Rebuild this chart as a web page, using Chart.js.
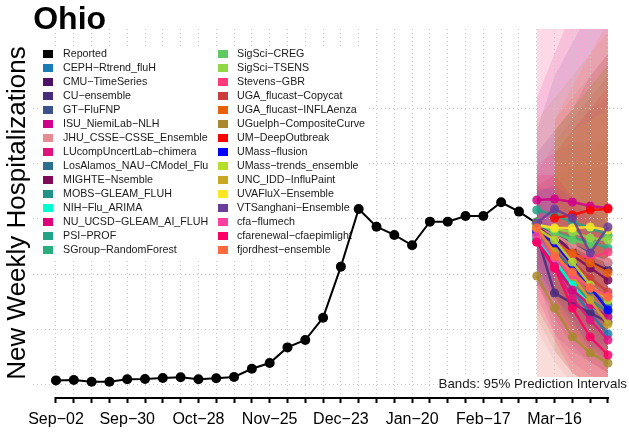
<!DOCTYPE html>
<html>
<head>
<meta charset="utf-8">
<script src="https://cdn.jsdelivr.net/npm/chart.js@4.4.1/dist/chart.umd.min.js"></script>
<style>
  html, body { margin: 0; padding: 0; background: #fff; }
</style>
</head>
<body>
<canvas id="grafico" width="629" height="432"></canvas>
<script>
// weeks on the x axis (index 0 = Sep-02)
const weeks = ['Sep-02','Sep-09','Sep-16','Sep-23','Sep-30','Oct-07','Oct-14','Oct-21','Oct-28',
  'Nov-04','Nov-11','Nov-18','Nov-25','Dec-02','Dec-09','Dec-16','Dec-23','Dec-30','Jan-06',
  'Jan-13','Jan-20','Jan-27','Feb-03','Feb-10','Feb-17','Feb-24','Mar-02','Mar-09','Mar-16',
  'Mar-23','Mar-30','Apr-06'];

const reported = [33,36,21,21,43,45,55,61,43,52,64,139,191,333,400,603,1067,1591,1430,1355,
  1261,1476,1476,1527,1527,1652,1567,1460];

const yGrid = [0,500,1000,1500,2000,2500];
const forecastStart = 27; // Mar-09

const modelNames = ['CEPH-Rtrend_fluH','CMU-TimeSeries','CU-ensemble','GT-FluFNP','ISU_NiemiLab-NLH',
  'JHU_CSSE-CSSE_Ensemble','LUcompUncertLab-chimera','LosAlamos_NAU-CModel_Flu','MIGHTE-Nsemble',
  'MOBS-GLEAM_FLUH','NIH-Flu_ARIMA','NU_UCSD-GLEAM_AI_FLUH','PSI-PROF','SGroup-RandomForest',
  'SigSci-CREG','SigSci-TSENS','Stevens-GBR','UGA_flucast-Copycat','UGA_flucast-INFLAenza',
  'UGuelph-CompositeCurve','UM-DeepOutbreak','UMass-flusion','UMass-trends_ensemble',
  'UNC_IDD-InfluPaint','UVAFluX-Ensemble','VTSanghani-Ensemble','cfa-flumech',
  'cfarenewal-cfaepimlight','fjordhest-ensemble'];

const modelColors = ['#1b7bb7','#4b1266','#472d7b','#3b528b','#d0008a','#e88a92','#e0137f','#2c6e8e',
  '#7d0b5a','#21918c','#00ffd0','#e0007a','#20a386','#29af7f','#5ec962','#8fd744','#ff3a7a',
  '#cc3c3c','#e8600a','#a8892f','#ff0000','#0000ff','#b5de2b','#c8a823','#fde725','#6a3d9a',
  '#ff40a0','#ff0066','#ff6a3d'];

// median forecasts, horizons 0..4 (Mar-09 .. Apr-06)
const fcMedian = [
  [1309,1109,855,645,455],
  [1473,1345,1200,1109,1036],
  [1355,827,736,645,564],
  [1445,1382,1264,1191,1100],
  [1673,1682,1655,1618,1600],
  [1418,1355,1264,1173,1109],
  [1327,1055,782,582,400],
  [1400,1218,1036,855,718],
  [1436,1309,1173,1055,945],
  [1382,1109,900,764,655],
  [1327,1127,900,718,600],
  [1291,1073,855,718,609],
  [1582,1536,1473,1418,1355],
  [1455,1382,1327,1291,1236],
  [1473,1373,1309,1264,1345],
  [1445,1409,1382,1327,1309],
  [1400,1309,1173,1145,1200],
  [1418,1264,1109,964,836],
  [1418,1273,1191,1100,1009],
  [982,691,427,282,191],
  [null,1509,1536,1582,1591],
  [1382,1282,1082,882,673],
  [1418,1309,1109,900,764],
  [1418,1200,982,764,545],
  [1445,1418,1418,1427,1400],
  [1464,1591,1509,1191,1427],
  [1345,1145,991,873,800],
  [1291,1055,691,427,264],
  [1418,1164,1018,873,791]
];

// 95% interval bounds, same layout
const fcLower = [
  [900,600,350,150,50],
  [1100,850,600,400,250],
  [1000,450,300,200,100],
  [null,950,750,600,450],
  [1200,900,700,500,300],
  [500,200,0,0,0],
  [800,450,200,80,0],
  [1000,750,500,300,150],
  [null,700,450,300,200],
  [null,750,500,350,250],
  [950,650,400,250,150],
  [900,600,350,200,100],
  [null,1050,900,750,600],
  [null,900,700,550,400],
  [null,800,600,450,350],
  [null,900,750,600,450],
  [900,650,450,300,250],
  [null,300,100,0,0],
  [null,800,650,500,400],
  [600,300,100,0,0],
  [null,1000,900,800,700],
  [1050,800,550,350,200],
  [null,700,450,250,100],
  [0,0,0,0,0],
  [null,950,850,750,650],
  [900,800,600,300,400],
  [0,0,0,0,0],
  [700,400,100,0,0],
  [null,650,450,300,200]
];

const fcUpper = [
  [1750,1700,1600,1500,1400],
  [2100,2300,2500,2800,3000],
  [1700,1300,1300,1250,1200],
  [null,1850,1900,1950,2000],
  [2600,3000,3400,3700,4000],
  [3400,3700,4000,4300,4600],
  [2000,2100,2200,2200,2200],
  [1800,1750,1650,1550,1450],
  [null,2100,2300,2500,2600],
  [null,1500,1350,1250,1150],
  [1700,1650,1550,1450,1350],
  [1800,1900,2000,2100,2200],
  [null,2300,2500,2700,2900],
  [null,2200,2400,2600,2800],
  [null,2300,2500,2700,2900],
  [null,1950,2050,2150,2250],
  [1900,2200,2400,2600,2800],
  [null,2300,2500,2700,2900],
  [null,2400,2600,2800,3000],
  [1800,1900,2000,2100,2200],
  [null,2100,2300,2500,2700],
  [1750,1800,1700,1600,1450],
  [null,2200,2300,2400,2500],
  [2400,2600,2800,3000,3200],
  [null,2300,2500,2700,2900],
  [2300,2800,3100,3400,3700],
  [3600,3900,4100,4200,4300],
  [1900,1900,1700,1500,1300],
  [null,2400,2700,3000,3300]
];

function rgba(hex, a) {
  var r = parseInt(hex.substr(1,2),16), g = parseInt(hex.substr(3,2),16), b = parseInt(hex.substr(5,2),16);
  return 'rgba(' + r + ',' + g + ',' + b + ',' + a + ')';
}
function minus(s) { return s.replace(/-/g, '\u2212'); }
function toPoints(arr) {
  var out = [];
  arr.forEach(function(v, h) { if (v !== null) out.push({x: forecastStart + h, y: v}); });
  return out;
}

var datasets = [];
// prediction bands (lower then upper, filled between); later models end up on top
modelNames.forEach(function(name, m) {
  datasets.push({label: name + ' lo', data: toPoints(fcLower[m]), borderColor: 'transparent', borderWidth: 0,
    pointRadius: 0, fill: false, order: 200 - m});
  datasets.push({label: name + ' hi', data: toPoints(fcUpper[m]), borderColor: 'transparent', borderWidth: 0,
    pointRadius: 0, fill: '-1', backgroundColor: rgba(modelColors[m], 0.13), order: 200 - m});
});
datasets.push({label: 'Reported', data: reported.map(function(v, i) { return {x: i, y: v}; }),
  borderColor: '#000', backgroundColor: '#000', borderWidth: 2, pointRadius: 5, pointBorderWidth: 0, order: 100});
modelNames.forEach(function(name, m) {
  datasets.push({label: name, data: toPoints(fcMedian[m]), borderColor: rgba(modelColors[m], 0.85),
    backgroundColor: rgba(modelColors[m], 0.85), borderWidth: 2.5, pointRadius: 4.5, pointBorderWidth: 0,
    order: 50 - m});
});

const extras = {
  id: 'extras',
  beforeDatasetsDraw(chart) {
    // legend, drawn over the grid but under the lines
    const ctx = chart.ctx;
    ctx.save();
    ctx.fillStyle = '#fff';
    ctx.fillRect(38, 46, 330, 212);
    const names = ['Reported'].concat(modelNames);
    const cols = ['#000'].concat(modelColors);
    ctx.font = '10.7px "Liberation Sans", Arial, sans-serif';
    ctx.textBaseline = 'middle';
    names.forEach(function(n, i) {
      const c = i < 15 ? 0 : 1;
      const r = i % 15;
      const sq = c === 0 ? 43 : 218;
      const tx = c === 0 ? 63 : 237;
      const y = 54 + r * 14;
      ctx.fillStyle = cols[i];
      ctx.fillRect(sq, y - 4, 10, 8);
      ctx.fillStyle = '#1a1a1a';
      ctx.fillText(minus(n), tx, y);
    });
    ctx.restore();
  },
  afterDatasetsDraw(chart) {
    const ctx = chart.ctx;
    ctx.save();
    ctx.font = '13.3px "Liberation Sans", Arial, sans-serif';
    const note = 'Bands: 95% Prediction Intervals';
    const w = ctx.measureText(note).width;
    ctx.fillStyle = '#fff';
    ctx.fillRect(626 - w, 377, w + 3, 14);
    ctx.fillStyle = '#1a1a1a';
    ctx.textAlign = 'right';
    ctx.textBaseline = 'alphabetic';
    ctx.fillText(note, 627, 388);
    ctx.restore();
  },
  afterDraw(chart) {
    const ctx = chart.ctx, xs = chart.scales.x;
    const y = chart.chartArea.bottom + 1;
    ctx.save();
    ctx.strokeStyle = '#000';
    ctx.lineWidth = 2;
    ctx.beginPath();
    ctx.moveTo(xs.getPixelForValue(0) - 1, y);
    ctx.lineTo(xs.getPixelForValue(weeks.length - 1) + 1, y);
    ctx.stroke();
    ctx.restore();
  }
};

const ctx = document.getElementById('grafico').getContext('2d');
window.grafica = new Chart(ctx, {
  type: 'line',
  data: { datasets: datasets },
  options: {
    responsive: false,
    animation: false,
    layout: { padding: { left: 0, right: 0, top: 0, bottom: -4.2 } },
    plugins: {
      legend: { display: false },
      tooltip: { enabled: false },
      filler: { drawTime: 'beforeDraw' }, // bands under the grid, as in the original
      title: {
        display: true, text: 'Ohio', align: 'start', fullSize: false, color: '#000',
        font: { family: 'Liberation Sans', size: 32, weight: 'bold' },
        padding: { top: 1, bottom: -10.4 }
      }
    },
    scales: {
      x: {
        type: 'linear', min: -1.28, max: 31.9,
        afterBuildTicks: function(s) { s.ticks = weeks.map(function(w, i) { return {value: i}; }); },
        ticks: {
          autoSkip: false, maxRotation: 0, padding: 7, color: '#000',
          font: { family: 'Liberation Sans', size: 16 },
          callback: function(v) { return v % 4 === 0 ? minus(weeks[v]) : ''; }
        },
        grid: { color: '#c8c8c8', lineWidth: 1, tickColor: '#000', tickWidth: 2, tickLength: 6, tickBorderDash: [] },
        border: { display: false, dash: [1, 3] }
      },
      y: {
        min: -118, max: 3227,
        afterBuildTicks: function(s) { s.ticks = yGrid.map(function(v) { return {value: v}; }); },
        ticks: { display: false },
        grid: { color: '#c8c8c8', lineWidth: 1, drawTicks: false },
        border: { display: false, dash: [1, 3] },
        title: {
          display: true, text: 'New Weekly Hospitalizations', color: '#000',
          font: { family: 'Liberation Sans', size: 26 }, padding: { top: 2, bottom: 0 }
        }
      }
    }
  },
  plugins: [extras]
});
</script>
</body>
</html>
